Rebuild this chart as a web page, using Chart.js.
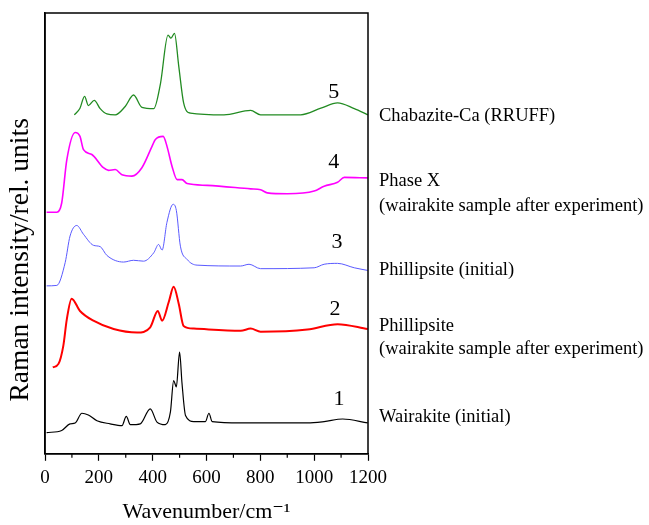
<!DOCTYPE html>
<html>
<head>
<meta charset="utf-8">
<script src="https://cdn.jsdelivr.net/npm/chart.js@4.4.1/dist/chart.umd.min.js"></script>
<style>
  body { margin: 0; background: #fff; }
  #wrap { width: 649px; height: 525px; }
</style>
</head>
<body>
<div id="wrap"><canvas id="raman"></canvas></div>
<script>
// spectra (wavenumber, stacked intensity in rel. units)
const wn1 = [6, 62, 93, 112, 137, 161, 193, 242, 286, 302, 317, 354, 391, 416, 447, 466, 478, 488, 500, 509, 522, 553, 596, 609, 621, 727, 975, 1037, 1106, 1199];
const int1 = [4.8, 5.3, 6.8, 7.0, 9.2, 8.8, 7.5, 6.8, 6.4, 8.5, 6.6, 6.8, 10.2, 7.2, 6.6, 9.5, 16.6, 15.2, 23.1, 16.0, 8.7, 7.3, 7.3, 9.2, 7.3, 7.0, 7.0, 7.3, 7.9, 7.0];

const wn2 = [29, 50, 68, 81, 99, 130, 180, 255, 342, 391, 419, 435, 460, 478, 497, 515, 553, 727, 764, 801, 975, 1087, 1199];
const int2 = [19.6, 20.4, 24.5, 30.5, 35.2, 32.4, 30.2, 28.3, 27.5, 28.7, 32.4, 30.2, 34.5, 37.9, 34.0, 29.0, 28.4, 27.9, 28.4, 27.7, 28.2, 29.4, 28.3];

const wn3 = [6, 44, 75, 93, 118, 143, 180, 205, 230, 292, 329, 366, 404, 422, 435, 453, 476, 488, 503, 528, 565, 727, 758, 801, 1000, 1037, 1087, 1149, 1199];
const int3 = [38.1, 38.2, 43.4, 49.4, 51.8, 49.8, 47.3, 47.0, 45.0, 43.5, 43.9, 43.7, 45.6, 47.5, 46.2, 52.5, 56.6, 55.2, 47.1, 44.1, 42.8, 42.6, 43.0, 42.0, 42.2, 43.0, 43.2, 42.2, 41.6];

const wn4 = [6, 44, 62, 81, 112, 130, 143, 174, 217, 236, 261, 286, 323, 360, 398, 410, 439, 453, 472, 491, 509, 528, 603, 764, 801, 826, 901, 1000, 1037, 1087, 1112, 1199];
const int4 = [54.8, 54.8, 56.9, 66.7, 72.9, 72.0, 69.0, 67.9, 64.9, 64.3, 64.5, 63.3, 63.0, 64.9, 69.8, 71.3, 72.0, 69.8, 65.2, 62.2, 62.2, 61.3, 60.9, 60.1, 59.9, 59.2, 59.0, 59.6, 60.7, 61.6, 62.7, 62.6];

const wn5 = [109, 130, 147, 161, 183, 205, 230, 261, 298, 329, 360, 404, 429, 457, 468, 481, 497, 515, 540, 665, 764, 801, 950, 1025, 1087, 1149, 1199];
const int5 = [76.9, 78.4, 81.1, 79.0, 80.2, 78.3, 77.1, 76.9, 78.8, 81.4, 78.6, 78.3, 84.0, 95.0, 94.3, 95.4, 87.9, 79.6, 77.3, 76.9, 77.9, 76.9, 76.9, 78.4, 79.6, 78.3, 76.9];

const xTicks = [0, 200, 400, 600, 800, 1000, 1200];
const curveNumbers = ['1', '2', '3', '4', '5'];
const numberX = [1092, 1077, 1085, 1073, 1073];
const numberY = [12.4, 32.8, 48.0, 66.1, 82.1];
const sampleLines = ['Wairakite (initial)', 'Phillipsite', '(wairakite sample after experiment)', 'Phillipsite (initial)', 'Phase X', '(wairakite sample after experiment)', 'Chabazite-Ca (RRUFF)'];
const sampleLineY = [8.4, 29.0, 23.8, 41.6, 61.8, 56.1, 76.5];

function pts(xs, ys) {
    return xs.map((x, i) => ({ x: x, y: ys[i] }));
}

const serif = "'Liberation Serif', 'DejaVu Serif', serif";

const annotate = {
    id: 'annotate',
    afterDraw(chart) {
        const ctx = chart.ctx;
        const xs = chart.scales.x, ys = chart.scales.y;
        const area = chart.chartArea;
        ctx.save();
        // frame on top and right
        ctx.strokeStyle = '#000';
        ctx.lineWidth = 1.5;
        ctx.strokeRect(area.left, area.top, area.right - area.left, area.bottom - area.top);
        // minor ticks
        ctx.lineWidth = 1.2;
        for (let v = 100; v < 1200; v += 200) {
            const px = xs.getPixelForValue(v);
            ctx.beginPath();
            ctx.moveTo(px, area.bottom);
            ctx.lineTo(px, area.bottom + 4);
            ctx.stroke();
        }
        ctx.fillStyle = '#000';
        ctx.textBaseline = 'middle';
        ctx.font = '22px ' + serif;
        ctx.textAlign = 'center';
        curveNumbers.forEach((n, i) => {
            ctx.fillText(n, xs.getPixelForValue(numberX[i]), ys.getPixelForValue(numberY[i]));
        });
        ctx.font = '18.5px ' + serif;
        ctx.textAlign = 'left';
        sampleLines.forEach((t, i) => {
            ctx.fillText(t, area.right + 11, ys.getPixelForValue(sampleLineY[i]));
        });
        // y axis title
        ctx.font = '27.5px ' + serif;
        ctx.textAlign = 'center';
        ctx.translate(21, ys.getPixelForValue(44));
        ctx.rotate(-Math.PI / 2);
        ctx.fillText('Raman intensity/rel. units', 0, 0);
        ctx.restore();
    }
};

const lineOpts = { pointRadius: 0, fill: false, cubicInterpolationMode: 'monotone' };

new Chart(document.getElementById('raman'), {
    type: 'line',
    data: {
        datasets: [
            { label: '1', data: pts(wn1, int1), borderColor: '#000000', borderWidth: 1.2, ...lineOpts },
            { label: '2', data: pts(wn2, int2), borderColor: '#ff0000', borderWidth: 2, ...lineOpts },
            { label: '3', data: pts(wn3, int3), borderColor: '#5a5aff', borderWidth: 1, ...lineOpts },
            { label: '4', data: pts(wn4, int4), borderColor: '#ff00ff', borderWidth: 1.6, ...lineOpts },
            { label: '5', data: pts(wn5, int5), borderColor: '#228b22', borderWidth: 1.3, ...lineOpts }
        ]
    },
    options: {
        responsive: true,
        maintainAspectRatio: false,
        animation: false,
        layout: { padding: { left: 37, right: 281, top: 13, bottom: 0 } },
        plugins: { legend: { display: false }, tooltip: { enabled: false } },
        scales: {
            x: {
                type: 'linear',
                min: 0,
                max: 1200,
                afterBuildTicks(axis) { axis.ticks = xTicks.map(v => ({ value: v })); },
                ticks: { color: '#000', font: { family: serif, size: 19 }, padding: 6, maxRotation: 0, callback: v => String(v) },
                grid: { display: true, drawOnChartArea: false, tickLength: 7, tickColor: '#000', tickWidth: 1.2 },
                border: { color: '#000', width: 1.5 },
                title: { display: true, text: 'Wavenumber/cm\u207B\u00B9', color: '#000', font: { family: serif, size: 22 }, padding: { top: 3, bottom: 0 } }
            },
            y: {
                min: 0,
                max: 100,
                ticks: { display: false },
                grid: { display: false },
                border: { color: '#000', width: 1.5 },
                title: { display: false }
            }
        }
    },
    plugins: [annotate]
});
</script>
</body>
</html>
